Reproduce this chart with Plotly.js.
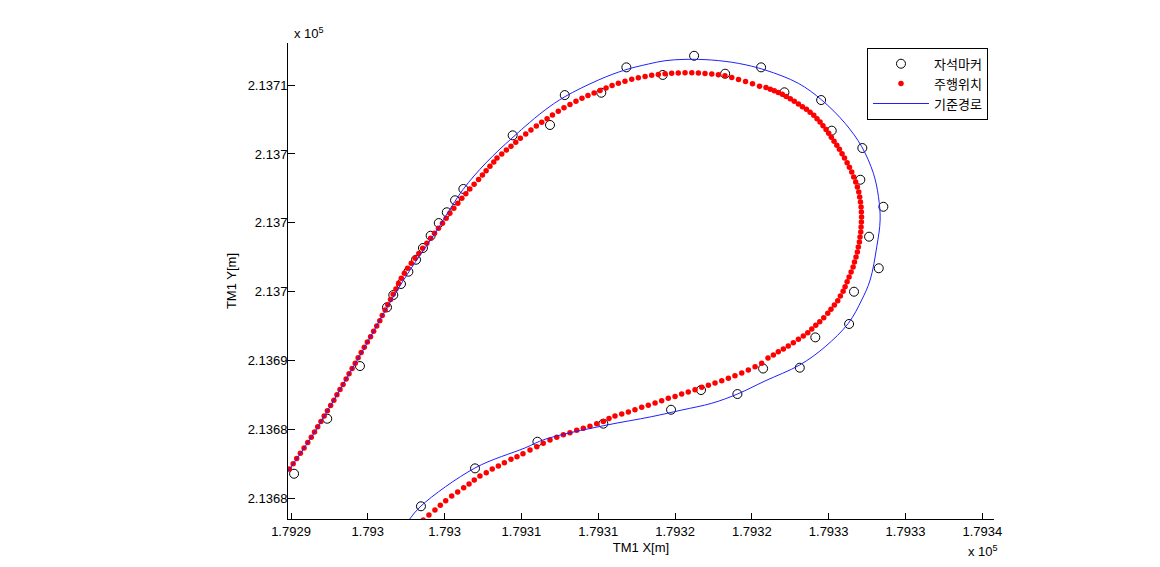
<!DOCTYPE html>
<html>
<head>
<meta charset="utf-8">
<script src="https://cdn.plot.ly/plotly-3.0.1.min.js"></script>
<style>html,body{margin:0;padding:0;background:#fff;}#chart{width:1160px;height:567px;}</style>
</head>
<body>
<div id="chart"></div>
<script>
// Magnet markers (자석마커)
const markerX = [179298.46,179301.98,179306.04,179310.33,179314.74,179316.69,179319.06,179320.73,179323.12,179324.13,
179326.33,179326.65,179328.26,179327.63,179328.56,179327.06,179327.19,179325.20,179324.51,179322.12,
179320.60,179318.26,179316.24,179314.20,179311.83,179310.20,179307.82,179306.86,179304.43,179301.22,
179300.68,179300.14,179299.62,179299.09,179298.59,179298.14,179297.64,179297.16,179296.66,179296.25,
179294.49,179292.36,179290.20];
const markerY = [213679.45,213682.20,213684.13,213685.44,213686.45,213687.88,213687.59,213689.44,213689.50,213691.70,
213692.67,213695.01,213696.71,213699.00,213701.17,213703.13,213705.43,213706.69,213708.91,213709.47,
213711.28,213710.82,213712.12,213710.73,213711.28,213709.44,213709.27,213707.10,213706.35,213702.46,
213701.64,213700.77,213699.99,213699.07,213698.18,213697.33,213696.46,213695.57,213694.77,213693.88,
213689.62,213685.80,213681.81];

// Driving positions (주행위치)
const driveX = [179298.61,179298.98,179299.37,179299.72,179300.07,179300.46,179300.85,179301.24,179301.59,179301.93,
179302.30,179302.71,179303.10,179303.50,179303.89,179304.32,179304.71,179305.10,179305.56,179306.00,
179306.42,179306.86,179307.30,179307.73,179308.16,179308.60,179309.03,179309.46,179309.90,179310.33,
179310.70,179311.09,179311.53,179311.96,179312.39,179312.83,179313.26,179313.70,179314.13,179314.56,
179315.00,179315.43,179315.86,179316.30,179316.74,179317.17,179317.60,179318.04,179318.47,179318.90,
179319.34,179319.77,179320.21,179320.64,179321.05,179321.40,179321.72,179322.05,179322.37,179322.70,
179323.03,179323.35,179323.64,179323.90,179324.16,179324.42,179324.68,179324.94,179325.15,179325.37,
179325.59,179325.76,179325.94,179326.07,179326.20,179326.33,179326.46,179326.59,179326.68,179326.78,
179326.87,179326.93,179327.00,179327.04,179327.09,179327.11,179327.13,179327.14,179327.13,179327.11,
179327.07,179327.02,179326.96,179326.87,179326.76,179326.63,179326.50,179326.35,179326.20,179326.03,
179325.87,179325.70,179325.53,179325.35,179325.17,179325.00,179324.83,179324.63,179324.44,179324.24,
179324.03,179323.79,179323.55,179323.29,179323.03,179322.76,179322.50,179322.24,179321.98,179321.72,
179321.46,179321.20,179320.92,179320.50,179320.04,179319.59,179319.13,179318.69,179318.25,179317.82,
179317.39,179316.95,179316.52,179316.09,179315.65,179315.21,179314.78,179314.35,179313.91,179313.48,
179313.05,179312.61,179312.18,179311.74,179311.31,179310.90,179310.51,179310.12,179309.73,179309.33,
179308.94,179308.55,179308.16,179307.77,179307.40,179307.02,179306.67,179306.32,179305.97,179305.62,
179305.28,179304.93,179304.63,179304.32,179304.02,179303.72,179303.41,179303.20,179302.95,179302.70,
179302.46,179302.21,179301.92,179301.64,179301.38,179301.12,179300.86,179300.60,179300.34,179300.10,
179299.86,179299.60,179299.34,179299.09,179298.84,179298.57,179298.32,179298.08,179297.83,179297.59,
179297.38,179297.18,179297.00,179296.83,179296.65,179296.48,179296.30,179296.13,179295.94,179295.78,
179295.58,179295.38,179295.18,179294.97,179294.77,179294.57,179294.37,179294.18,179293.98,179293.78,
179293.59,179293.39,179293.19,179292.99,179292.79,179292.58,179292.37,179292.16,179291.95,179291.74,
179291.53,179291.32,179291.09,179290.85,179290.61,179290.37,179290.14,179289.90];
const driveY = [213678.45,213678.82,213679.18,213679.52,213679.85,213680.19,213680.48,213680.80,213681.06,213681.35,
213681.64,213681.88,213682.15,213682.37,213682.61,213682.86,213683.04,213683.26,213683.53,213683.77,
213684.02,213684.26,213684.45,213684.64,213684.78,213684.96,213685.10,213685.25,213685.43,213685.60,
213685.81,213686.00,213686.14,213686.29,213686.45,213686.63,213686.77,213686.94,213687.11,213687.28,
213687.42,213687.59,213687.74,213687.90,213688.08,213688.22,213688.39,213688.56,213688.73,213688.92,
213689.11,213689.33,213689.57,213689.82,213690.20,213690.42,213690.66,213690.85,213691.07,213691.31,
213691.56,213691.80,213692.04,213692.31,213692.57,213692.83,213693.12,213693.44,213693.73,213694.05,
213694.36,213694.70,213695.04,213695.37,213695.74,213696.08,213696.44,213696.80,213697.16,213697.53,
213697.89,213698.25,213698.61,213698.98,213699.34,213699.70,213700.06,213700.43,213700.79,213701.15,
213701.52,213701.88,213702.24,213702.60,213702.97,213703.33,213703.69,213704.03,213704.37,213704.71,
213705.02,213705.34,213705.63,213705.92,213706.21,213706.50,213706.77,213707.05,213707.32,213707.56,
213707.80,213708.02,213708.24,213708.43,213708.62,213708.82,213709.01,213709.17,213709.33,213709.46,
213709.58,213709.70,213709.81,213709.91,213710.09,213710.25,213710.40,213710.54,213710.67,213710.74,
213710.80,213710.84,213710.87,213710.88,213710.88,213710.87,213710.85,213710.81,213710.77,213710.70,
213710.62,213710.52,213710.41,213710.28,213710.12,213709.96,213709.78,213709.60,213709.42,213709.24,
213709.04,213708.82,213708.59,213708.35,213708.09,213707.82,213707.56,213707.29,213707.03,213706.74,
213706.45,213706.13,213705.84,213705.56,213705.28,213705.00,213704.71,213704.41,213704.10,213703.79,
213703.47,213703.14,213702.80,213702.46,213702.12,213701.78,213701.42,213701.06,213700.70,213700.33,
213699.97,213699.61,213699.25,213698.88,213698.52,213698.16,213697.79,213697.43,213697.07,213696.71,
213696.34,213695.98,213695.60,213695.21,213694.83,213694.44,213694.06,213693.68,213693.29,213692.91,
213692.52,213692.14,213691.75,213691.37,213690.99,213690.60,213690.22,213689.83,213689.45,213689.06,
213688.68,213688.29,213687.91,213687.53,213687.14,213686.76,213686.37,213685.99,213685.60,213685.22,
213684.84,213684.45,213684.07,213683.68,213683.30,213682.91,213682.53,213682.15];

// Reference path (기준경로)
const pathX = [179297.58,179298.46,179301.98,179305.23,179306.54,179310.33,179313.48,179315.44,179317.39,179319.06,
179320.86,179323.12,179324.77,179326.28,179327.15,179327.70,179328.13,179328.35,179328.24,179327.91,
179327.15,179326.07,179324.55,179323.03,179320.86,179319.12,179317.39,179315.65,179314.35,179313.26,
179311.74,179310.01,179307.84,179306.54,179305.23,179304.37,179303.54,179302.69,179301.91,179301.20,
179300.48,179299.38,179298.33,179297.33,179296.15,179294.63,179292.86,179291.35,179289.79];
const pathY = [213678.31,213679.47,213682.23,213683.68,213684.31,213685.29,213685.95,213686.43,213686.92,213687.59,
213688.54,213689.70,213691.02,213692.72,213694.41,213695.86,213698.27,213700.21,213701.90,213703.60,
213705.53,213707.22,213708.91,213710.12,213711.09,213711.57,213711.81,213711.86,213711.76,213711.52,
213711.09,213710.36,213709.16,213708.19,213706.99,213706.13,213705.29,213704.35,213703.40,213702.42,
213701.23,213699.25,213697.55,213695.86,213693.67,213690.66,213687.28,213684.50,213681.96];

const xTickVals = [179290,179295,179300,179305,179310,179315,179320,179325,179330,179335];
const xTickText = ['1.7929','1.793','1.793','1.7931','1.7931','1.7932','1.7932','1.7933','1.7933','1.7934'];
const yTickVals = [213680,213685,213690,213695,213700,213705,213710];
const yTickText = ['2.1368','2.1368','2.1369','2.137','2.137','2.137','2.1371'];
const seriesNames = ['자석마커','주행위치','기준경로'];

const FONT = 'Arial, "Liberation Sans", "Noto Sans CJK KR", sans-serif';

const traces = [
  {x: markerX, y: markerY, name: seriesNames[0], type: 'scatter', mode: 'markers',
   marker: {symbol: 'circle-open', size: 9, color: '#000000', line: {width: 1, color: '#000000'}}},
  {x: driveX, y: driveY, name: seriesNames[1], type: 'scatter', mode: 'markers',
   marker: {symbol: 'circle', size: 5.5, color: '#ff0000'}},
  {x: pathX, y: pathY, name: seriesNames[2], type: 'scatter', mode: 'lines',
   line: {color: '#1f1fff', width: 1, shape: 'spline', smoothing: 1}}
];

const layout = {
  width: 1160, height: 567,
  paper_bgcolor: '#ffffff', plot_bgcolor: '#ffffff',
  margin: {l: 288, r: 166, t: 43, b: 48, autoexpand: false},
  font: {family: FONT, size: 13, color: '#000000'},
  showlegend: true,
  legend: {x: 0.9915, xanchor: 'right', y: 0.99, yanchor: 'top',
    bordercolor: '#000000', borderwidth: 1, bgcolor: '#ffffff',
    font: {family: '"Noto Sans CJK KR", sans-serif', size: 13, color: '#000000'},
    itemwidth: 56, tracegroupgap: 0},
  xaxis: {range: [179289.805, 179335.762], tickmode: 'array', tickvals: xTickVals, ticktext: xTickText,
    showgrid: false, zeroline: false, showline: true, linecolor: '#000000', linewidth: 1, mirror: false,
    ticks: 'inside', ticklen: 6, tickcolor: '#000000', tickwidth: 1,
    tickfont: {family: FONT, size: 13, color: '#000000'},
    title: {text: 'TM1 X[m]', font: {family: FONT, size: 13, color: '#000000'}, standoff: 5},
    automargin: false},
  yaxis: {range: [213678.528, 213713.046], tickmode: 'array', tickvals: yTickVals, ticktext: yTickText,
    showgrid: false, zeroline: false, showline: true, linecolor: '#000000', linewidth: 1, mirror: false,
    ticks: 'inside', ticklen: 7, tickcolor: '#000000', tickwidth: 1, ticklabelstandoff: -3,
    tickfont: {family: FONT, size: 13, color: '#000000'},
    title: {text: 'TM1 Y[m]', font: {family: FONT, size: 13, color: '#000000'}, standoff: 8},
    automargin: false},
  annotations: [
    {xref: 'paper', yref: 'paper', x: 0.005, y: 1.0, xanchor: 'left', yanchor: 'bottom', yshift: 0,
     text: 'x 10<sup>5</sup>', showarrow: false, font: {family: FONT, size: 13, color: '#000000'}},
    {xref: 'paper', yref: 'paper', x: 0.96, y: 0, xanchor: 'left', yanchor: 'top', yshift: -22,
     text: 'x 10<sup>5</sup>', showarrow: false, font: {family: FONT, size: 13, color: '#000000'}}
  ]
};

Plotly.newPlot('chart', traces, layout, {displayModeBar: false, staticPlot: true});
</script>
</body>
</html>
